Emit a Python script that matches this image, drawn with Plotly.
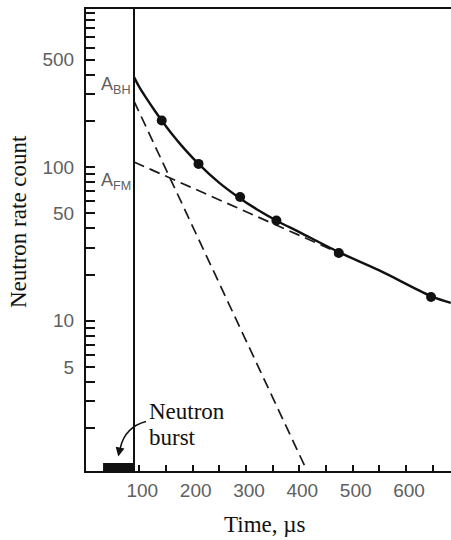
import plotly.graph_objects as go

# ---- data ----
curve_t = [90, 100, 115, 130, 142, 160, 180, 211, 250, 289, 320, 357, 400, 474, 550, 647, 684]
curve_counts = [385, 332, 275, 230, 201, 166, 137, 105, 79, 62.6, 53.3, 45, 37.8, 28, 21.3, 14.5, 13.1]

dots_t = [142, 211, 289, 357, 474, 647]
dots_counts = [201, 105, 64, 45, 27.6, 14.3]

fast_t = [90, 412]          # A_BH component
fast_counts = [269, 1.1]
slow_t = [90, 470]          # A_FM component
slow_counts = [108, 28.1]

burst_start = 32
burst_end = 89
gate_t = 90

x_ticks = [100, 150, 200, 250, 300, 350, 400, 450, 500, 550, 600, 650]
x_ticktext = ["100", "", "200", "", "300", "", "400", "", "500", "", "600", ""]

y_ticks = [d * 10 ** k for k in range(0, 4) for d in range(1, 10) if 1.05 < d * 10 ** k <= 1000]
y_labels = {5: "5", 10: "10", 50: "50", 100: "100", 500: "500"}
y_ticktext = [y_labels.get(v, "") for v in y_ticks]

# ---- figure ----
W, H = 451, 540
L, R, T, B = 86, 0, 9, 69
plot_w = W - L - R
plot_h = H - T - B


def px_to_paper_x(px):
    return (px - L) / plot_w


def px_to_paper_y(py):
    return (H - B - py) / plot_h


fig = go.Figure()
fig.add_trace(go.Scatter(x=fast_t, y=fast_counts, mode="lines",
                         line=dict(color="#1a1a1a", width=1.7, dash="11px,6px"),
                         hoverinfo="skip", showlegend=False))
fig.add_trace(go.Scatter(x=slow_t, y=slow_counts, mode="lines",
                         line=dict(color="#1a1a1a", width=1.7, dash="11px,6px"),
                         hoverinfo="skip", showlegend=False))
fig.add_trace(go.Scatter(x=curve_t, y=curve_counts, mode="lines",
                         line=dict(color="#111111", width=2.4, shape="spline", smoothing=1.0),
                         showlegend=False))
fig.add_trace(go.Scatter(x=dots_t, y=dots_counts, mode="markers",
                         marker=dict(color="#111111", size=10),
                         showlegend=False))

tick_font = dict(family="Liberation Sans, Arial, sans-serif", size=19, color="#606060")
serif = "Liberation Serif, Times New Roman, serif"

fig.update_layout(
    width=W, height=H,
    margin=dict(l=L, r=R, t=T, b=B, autoexpand=False),
    paper_bgcolor="white", plot_bgcolor="white",
    xaxis=dict(range=[0, 684.4], tickvals=x_ticks, ticktext=x_ticktext,
               ticks="inside", ticklen=6, tickwidth=1.5, tickcolor="#111",
               showline=True, linewidth=2, linecolor="#111", mirror=True,
               showgrid=False, zeroline=False, tickfont=tick_font,
               ticklabelstandoff=1, ticklabelshift=3, automargin=False),
    yaxis=dict(type="log", range=[0.023, 3.029], tickvals=y_ticks, ticktext=y_ticktext,
               ticks="inside", ticklen=9, tickwidth=1.5, tickcolor="#111",
               showline=True, linewidth=2, linecolor="#111", mirror=False,
               showgrid=False, zeroline=False, tickfont=tick_font,
               ticklabelstandoff=6, automargin=False),
    shapes=[
        dict(type="line", xref="x", yref="paper", x0=gate_t, x1=gate_t, y0=0, y1=1,
             line=dict(color="#111", width=2)),
        dict(type="rect", xref="x", yref="paper", x0=burst_start, x1=burst_end,
             y0=0, y1=px_to_paper_y(463), fillcolor="#111", line=dict(width=0)),
        dict(type="path", xref="paper", yref="paper",
             path="M %f,%f Q %f,%f %f,%f" % (
                 px_to_paper_x(146), px_to_paper_y(421.5),
                 px_to_paper_x(125), px_to_paper_y(427),
                 px_to_paper_x(120.3), px_to_paper_y(448)),
             line=dict(color="#111", width=1.5)),
    ],
    annotations=[
        dict(xref="paper", yref="paper", x=px_to_paper_x(118.3), y=px_to_paper_y(456.5),
             ax=2, ay=-10, axref="pixel", ayref="pixel", showarrow=True,
             arrowhead=2, arrowsize=1.2, arrowwidth=1.5, arrowcolor="#111", text=""),
        dict(xref="paper", yref="paper", x=px_to_paper_x(147), y=px_to_paper_y(411),
             xanchor="left", yanchor="middle", showarrow=False, text="Neutron",
             font=dict(family=serif, size=23, color="#111")),
        dict(xref="paper", yref="paper", x=px_to_paper_x(147), y=px_to_paper_y(437),
             xanchor="left", yanchor="middle", showarrow=False, text="burst",
             font=dict(family=serif, size=23, color="#111")),
        dict(xref="paper", yref="paper", x=px_to_paper_x(99), y=px_to_paper_y(86),
             xanchor="left", yanchor="middle", showarrow=False, text="A<sub>BH</sub>",
             font=dict(family="Liberation Sans, Arial, sans-serif", size=18, color="#606060")),
        dict(xref="paper", yref="paper", x=px_to_paper_x(99), y=px_to_paper_y(181),
             xanchor="left", yanchor="middle", showarrow=False, text="A<sub>FM</sub>",
             font=dict(family="Liberation Sans, Arial, sans-serif", size=18, color="#606060")),
        dict(xref="paper", yref="paper", x=px_to_paper_x(18), y=px_to_paper_y(222),
             xanchor="center", yanchor="middle", showarrow=False, textangle=-90,
             text="Neutron rate count",
             font=dict(family=serif, size=23, color="#111")),
        dict(xref="paper", yref="paper", x=px_to_paper_x(264), y=px_to_paper_y(524),
             xanchor="center", yanchor="middle", showarrow=False,
             text="Time, \u00b5s",
             font=dict(family=serif, size=23, color="#111")),
    ],
)

fig.write_html("out.html",
               config={"displayModeBar": False},
               post_script="document.body.style.margin='0';document.body.style.overflow='hidden';")
